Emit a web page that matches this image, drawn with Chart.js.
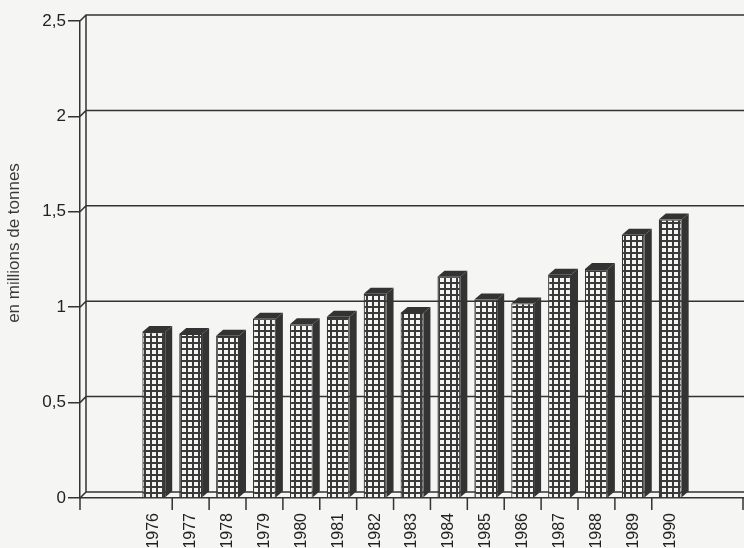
<!DOCTYPE html>
<html>
<head>
<meta charset="utf-8">
<script src="https://cdn.jsdelivr.net/npm/chart.js@4.4.1/dist/chart.umd.min.js"></script>
<style>
  body { margin: 0; background: #f5f5f3; }
  #chart-box { width: 744px; height: 548px; }
</style>
</head>
<body>
<div id="chart-box"><canvas id="tonnage" width="744" height="548"></canvas></div>
<script>
// --- DATA ---
const years = [1976, 1977, 1978, 1979, 1980, 1981, 1982, 1983, 1984, 1985, 1986, 1987, 1988, 1989, 1990];
const tonnage = [0.87, 0.86, 0.85, 0.94, 0.91, 0.95, 1.07, 0.97, 1.16, 1.04, 1.02, 1.17, 1.20, 1.38, 1.46];
const yTicks = [0, 0.5, 1, 1.5, 2, 2.5];
const yLabels = ['0', '0,5', '1', '1,5', '2', '2,5'];
const axisTitle = 'en millions de tonnes';

const INK = '#333';
const FONT = '"Liberation Sans", Arial, sans-serif';
const WALL_DX = 6, WALL_DY = 6;   // depth of the back wall
const BAR_DX = 7, BAR_DY = 6;     // depth of each bar

const canvas = document.getElementById('tonnage');
const ctx = canvas.getContext('2d');

// small square mesh used on the bar fronts
function meshPattern() {
    const tile = document.createElement('canvas');
    tile.width = 6;
    tile.height = 6;
    const g = tile.getContext('2d');
    g.fillStyle = '#f4f4f2';
    g.fillRect(0, 0, 6, 6);
    g.fillStyle = '#3a3a3a';
    g.fillRect(0, 0, 6, 2);
    g.fillRect(0, 0, 2, 6);
    return ctx.createPattern(tile, 'repeat');
}

// --- 3D LOOK: back wall, bar sides, tick marks, axis title ---
const depth3d = {
    id: 'depth3d',
    beforeDatasetsDraw(chart) {
        const { ctx, chartArea: { left, right, top, bottom }, scales: { y } } = chart;
        ctx.save();
        ctx.strokeStyle = INK;
        ctx.lineWidth = 1.5;
        ctx.beginPath();
        ctx.moveTo(left + WALL_DX, top - WALL_DY);
        ctx.lineTo(left + WALL_DX, bottom - WALL_DY);
        yTicks.forEach(v => {
            const py = y.getPixelForValue(v);
            ctx.moveTo(left, py);
            ctx.lineTo(left + WALL_DX, py - WALL_DY);
            ctx.lineTo(right, py - WALL_DY);
        });
        ctx.stroke();
        ctx.restore();
    },
    afterDatasetsDraw(chart) {
        const { ctx } = chart;
        const meta = chart.getDatasetMeta(0);
        ctx.save();
        ctx.fillStyle = INK;
        meta.data.forEach(bar => {
            const { x, y, base, width } = bar.getProps(['x', 'y', 'base', 'width'], true);
            const x0 = x - width / 2, x1 = x + width / 2;
            // top face
            ctx.beginPath();
            ctx.moveTo(x0, y);
            ctx.lineTo(x0 + BAR_DX, y - BAR_DY);
            ctx.lineTo(x1 + BAR_DX, y - BAR_DY);
            ctx.lineTo(x1, y);
            ctx.closePath();
            ctx.fill();
            // side face
            ctx.beginPath();
            ctx.moveTo(x1, y);
            ctx.lineTo(x1 + BAR_DX, y - BAR_DY);
            ctx.lineTo(x1 + BAR_DX, base - BAR_DY);
            ctx.lineTo(x1, base);
            ctx.closePath();
            ctx.fill();
        });
        ctx.restore();
    },
    afterDraw(chart) {
        const { ctx, chartArea: { left, right, bottom }, scales: { x } } = chart;
        ctx.save();
        ctx.strokeStyle = INK;
        ctx.lineWidth = 1.5;
        ctx.beginPath();
        const marks = [left, right - 1].concat(years.slice(0, -1).map(yr => x.getPixelForValue(yr + 0.5)));
        marks.forEach(px => {
            ctx.moveTo(px, bottom);
            ctx.lineTo(px, bottom + 12);
        });
        ctx.stroke();

        ctx.translate(14, 243);
        ctx.rotate(-Math.PI / 2);
        ctx.fillStyle = '#3a3a3a';
        ctx.font = '17px ' + FONT;
        ctx.textAlign = 'center';
        ctx.textBaseline = 'middle';
        ctx.fillText(axisTitle, 0, 0);
        ctx.restore();
    }
};

new Chart(canvas, {
    type: 'bar',
    data: {
        datasets: [{
            data: years.map((yr, i) => ({ x: yr, y: tonnage[i] })),
            backgroundColor: meshPattern(),
            borderColor: INK,
            borderWidth: 1.2,
            categoryPercentage: 1,
            barPercentage: 0.62
        }]
    },
    options: {
        responsive: false,
        animation: false,
        layout: { padding: { top: 21, right: 0, left: 0, bottom: 0 } },
        plugins: { legend: { display: false }, tooltip: { enabled: false } },
        scales: {
            x: {
                type: 'linear',
                offset: false,
                min: 1974,
                max: 1992,
                afterBuildTicks: s => { s.ticks = years.map(v => ({ value: v })); },
                afterFit: s => { s.height = 50; },
                ticks: {
                    autoSkip: false,
                    minRotation: 90,
                    maxRotation: 90,
                    padding: 7,
                    color: '#222',
                    font: { family: FONT, size: 16 },
                    callback: v => String(v)
                },
                grid: { display: false },
                border: { color: INK, width: 1.5 }
            },
            y: {
                min: 0,
                max: 2.5,
                afterBuildTicks: s => { s.ticks = yTicks.map(v => ({ value: v })); },
                afterFit: s => { s.width = 80; },
                ticks: {
                    padding: 2,
                    color: '#222',
                    font: { family: FONT, size: 17 },
                    callback: (v, i) => yLabels[i]
                },
                grid: { drawOnChartArea: false, tickLength: 12, color: INK, lineWidth: 1.5 },
                border: { color: INK, width: 1.5 }
            }
        }
    },
    plugins: [depth3d]
});
</script>
</body>
</html>
